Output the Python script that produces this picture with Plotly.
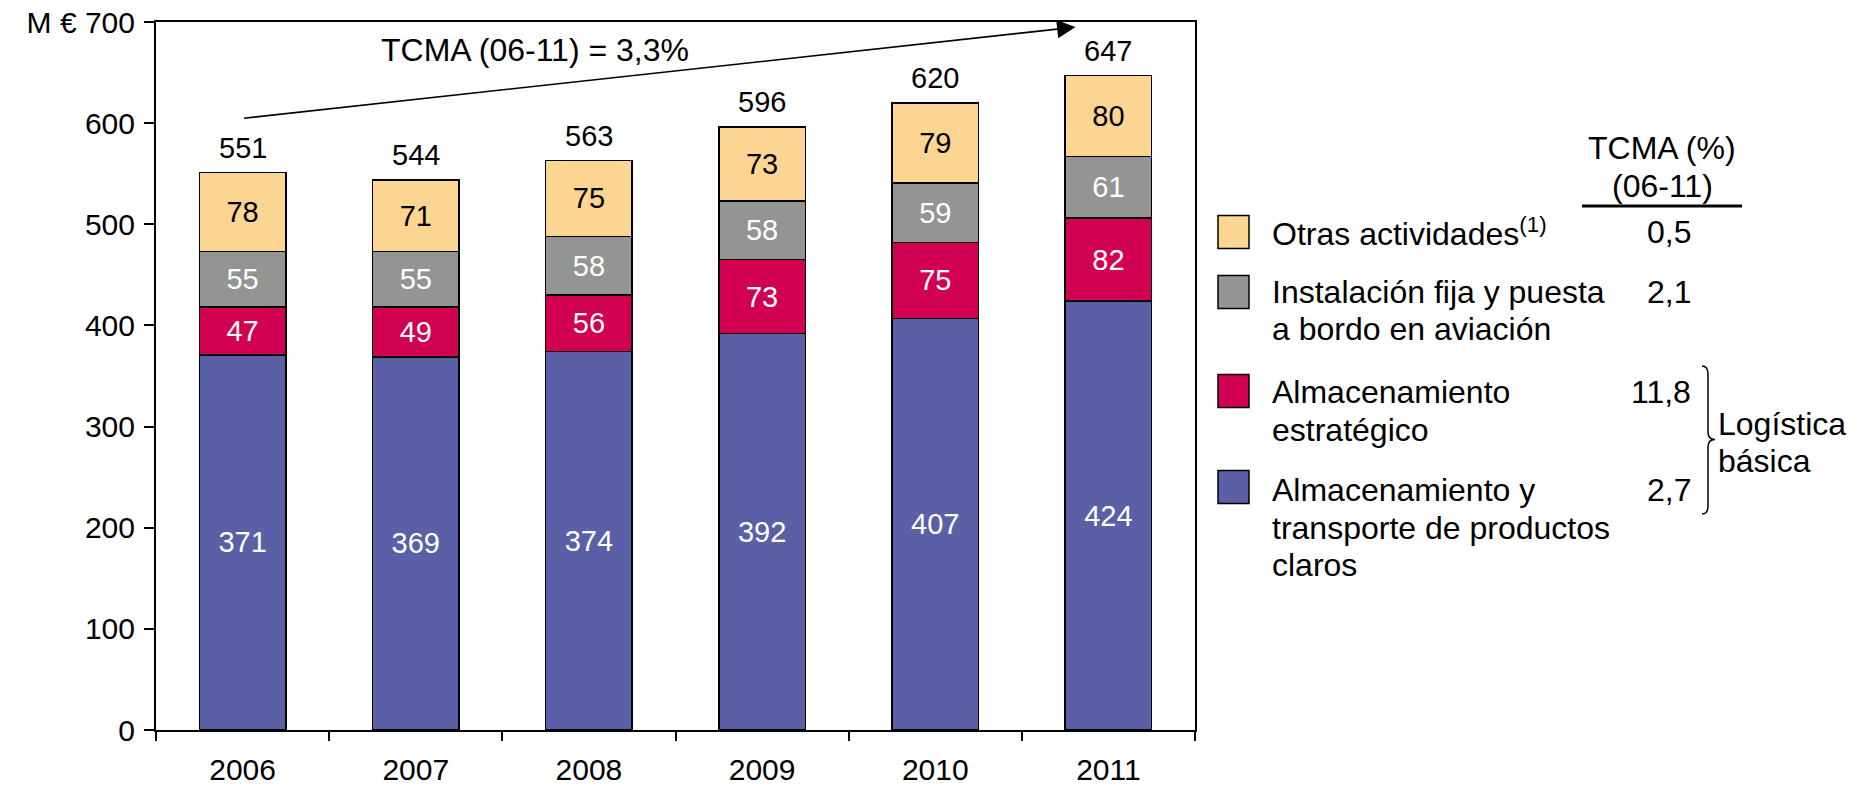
import plotly.graph_objects as go

# ---------------- data ----------------
years = ["2006", "2007", "2008", "2009", "2010", "2011"]
claros = [371, 369, 374, 392, 407, 424]
estrategico = [47, 49, 56, 73, 75, 82]
aviacion = [55, 55, 58, 58, 59, 61]
otras = [78, 71, 75, 73, 79, 80]
totals = [551, 544, 563, 596, 620, 647]

ytick_vals = [0, 100, 200, 300, 400, 500, 600, 700]
ytick_text = ["0", "100", "200", "300", "400", "500", "600", "M € 700"]

legend_lines = [
    ["Otras actividades<sup>(1)</sup>"],
    ["Instalación fija y puesta", "a bordo en aviación"],
    ["Almacenamiento", "estratégico"],
    ["Almacenamiento y", "transporte de productos", "claros"],
]
tcma_values = ["0,5", "2,1", "11,8", "2,7"]
tcma_header = ["TCMA (%)", "(06-11)"]
group_label = ["Logística", "básica"]
cagr_text = "TCMA (06-11) = 3,3%"

# ---------------- style ----------------
C_OTRAS = "#FDD592"
C_AVIA = "#939592"
C_ESTR = "#D20050"
C_CLAROS = "#5A5FA6"
legend_colors = [C_OTRAS, C_AVIA, C_ESTR, C_CLAROS]

FONT = "Liberation Sans, Arial, sans-serif"
FS = 32      # descriptive texts
FN = 29      # numbers on bars / totals
FT = 30      # y tick labels
FX = 30      # x tick labels
W, H = 1869, 788
PL, PR, PT, PB = 156, 1195, 22, 730


def px(x):
    return (x - PL) / (PR - PL)


def py(y):
    return (PB - y) / (PB - PT)


fig = go.Figure()
common = dict(marker_line=dict(color="black", width=1.5), textposition="inside",
              insidetextanchor="middle", constraintext="none", textangle=0,
              hoverinfo="skip", showlegend=False)
fig.add_bar(x=years, y=claros, marker_color=C_CLAROS, text=claros,
            textfont=dict(color="white", size=FN, family=FONT), **common)
fig.add_bar(x=years, y=estrategico, marker_color=C_ESTR, text=estrategico,
            textfont=dict(color="white", size=FN, family=FONT), **common)
fig.add_bar(x=years, y=aviacion, marker_color=C_AVIA, text=aviacion,
            textfont=dict(color="white", size=FN, family=FONT), **common)
fig.add_bar(x=years, y=otras, marker_color=C_OTRAS, text=otras,
            textfont=dict(color="black", size=FN, family=FONT), **common)

annotations = []
# totals (x given as category index)
for i, tot in enumerate(totals):
    annotations.append(dict(x=i, y=tot, xref="x", yref="y", text=str(tot),
                            showarrow=False, yanchor="middle", yshift=25,
                            font=dict(size=FN, color="black", family=FONT)))

# CAGR arrow
annotations.append(dict(x=4.81, y=695, xref="x", yref="y", ax=0, ay=604.7,
                        axref="x", ayref="y", text="", showarrow=True,
                        arrowhead=2, arrowsize=2.3, arrowwidth=1.6,
                        arrowcolor="black", standoff=0, startstandoff=0))
annotations.append(dict(x=px(535), y=py(50), xref="paper", yref="paper",
                        text=cagr_text, showarrow=False, xanchor="center",
                        yanchor="middle", font=dict(size=FS, color="black", family=FONT)))

shapes = []
# legend
square_centers = [232, 292, 391, 487]
line_starts = [232, 292, 392, 490]
LINE_H = 37.5
for i, lines in enumerate(legend_lines):
    cy = square_centers[i]
    shapes.append(dict(type="rect", xref="paper", yref="paper",
                       x0=px(1218), x1=px(1249), y0=py(cy + 16.5), y1=py(cy - 16.5),
                       fillcolor=legend_colors[i], line=dict(color="black", width=1.5)))
    for j, ln in enumerate(lines):
        annotations.append(dict(x=px(1270), y=py(line_starts[i] + j * LINE_H),
                                xref="paper", yref="paper", text=ln, showarrow=False,
                                xanchor="left", yanchor="middle",
                                font=dict(size=FS, color="black", family=FONT)))
    annotations.append(dict(x=px(1693), y=py(line_starts[i]), xref="paper", yref="paper",
                            text=tcma_values[i], showarrow=False, xanchor="right",
                            yanchor="middle", font=dict(size=FS, color="black", family=FONT)))

# header
for j, ln in enumerate(tcma_header):
    annotations.append(dict(x=px(1662), y=py(148 + j * 38), xref="paper", yref="paper",
                            text=ln, showarrow=False, xanchor="center", yanchor="middle",
                            font=dict(size=FS, color="black", family=FONT)))
shapes.append(dict(type="line", xref="paper", yref="paper", x0=px(1582), x1=px(1742),
                   y0=py(206), y1=py(206), line=dict(color="black", width=3)))


# brace
def P(x, y):
    return f"{px(x):.5f},{py(y):.5f}"


path = (f"M {P(1702,366)} C {P(1706,366)} {P(1708,369)} {P(1708,374)} "
        f"L {P(1708,432)} C {P(1708,437)} {P(1711,439.5)} {P(1715,439.5)} "
        f"C {P(1711,439.5)} {P(1708,442)} {P(1708,447)} "
        f"L {P(1708,506)} C {P(1708,511)} {P(1706,514)} {P(1702,514)}")
shapes.append(dict(type="path", xref="paper", yref="paper", path=path,
                   line=dict(color="black", width=1.5)))
for j, ln in enumerate(group_label):
    annotations.append(dict(x=px(1716), y=py(424 + j * 37), xref="paper", yref="paper",
                            text=ln, showarrow=False, xanchor="left", yanchor="middle",
                            font=dict(size=FS, color="black", family=FONT)))

fig.update_layout(
    width=W, height=H,
    margin=dict(l=PL, r=W - PR, t=PT, b=H - PB, pad=0, autoexpand=False),
    barmode="stack", bargap=0.5,
    plot_bgcolor="white", paper_bgcolor="white",
    font=dict(family=FONT, size=FS, color="black"),
    annotations=annotations, shapes=shapes,
    showlegend=False,
)
fig.update_xaxes(type="category", range=[-0.5, 5.5], showline=True, linecolor="black",
                 linewidth=2, mirror=True, ticks="outside", ticklen=9, tickwidth=1.5,
                 tickcolor="black", tickson="boundaries", showgrid=False, automargin=False,
                 tickfont=dict(size=FX, family=FONT, color="black"), ticklabelstandoff=12)
fig.update_yaxes(range=[0, 700], tickvals=ytick_vals, ticktext=ytick_text,
                 showline=True, linecolor="black", linewidth=2, mirror=True,
                 ticks="outside", ticklen=10, tickwidth=1.5, tickcolor="black",
                 showgrid=False, zeroline=False, automargin=False,
                 tickfont=dict(size=FT, family=FONT, color="black"), ticklabelstandoff=3)

fig.write_html("out.html", config={"displayModeBar": False},
               post_script="document.body.style.margin='0';document.body.style.overflow='hidden';")
